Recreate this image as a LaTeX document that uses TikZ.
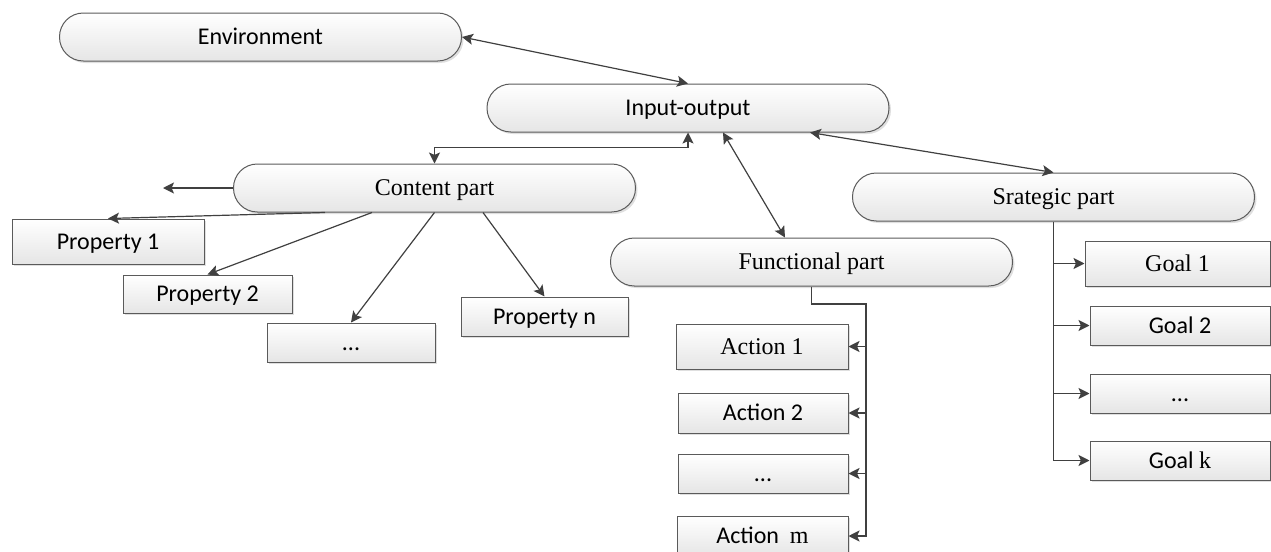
\documentclass[tikz,border=0pt]{standalone}
\usepackage{fontspec}
\setmainfont{Liberation Serif}
\newfontfamily\calfont{Carlito}
\usetikzlibrary{arrows.meta,shadows}
\definecolor{linegray}{HTML}{404040}
\definecolor{edgegray}{HTML}{5A5A5A}

\begin{document}
\begin{tikzpicture}[x=0.5pt,y=-0.5pt]
    \useasboundingbox (0,0) rectangle (1271,552);

    \tikzstyle{shade}=[draw=edgegray,line width=0.5pt,top color=white,bottom color=gray!20,drop shadow={shadow xshift=1pt,shadow yshift=-1pt,opacity=0.25},inner sep=0pt,text height=7.7pt,text depth=0pt,font=\fontsize{12}{14}\selectfont]
    \tikzstyle{oval}=[shade,rounded corners=11.9pt,minimum width=201pt,minimum height=24pt]
    \tikzstyle{box}=[shade]

    \node[oval]  (env) at (260.5,37) {\calfont Environment};
    \node[oval]  (io) at (688,108) {\calfont Input-output};
    \node[oval]  (content) at (434.5,188) {Content part};
    \node[oval]  (func) at (811.5,262) {Functional part};
    \node[oval]  (strat) at (1053.5,197) {Srategic part};

    \node[box,minimum width=96pt,minimum height=22.5pt]  (p1) at (108,241.5) {\calfont Property 1};
    \node[box,minimum width=84.5pt,minimum height=19pt]  (p2) at (207.5,294) {\calfont Property 2};
    \node[box,minimum width=84pt,minimum height=19.5pt]  (pdots) at (351,342.5) {\calfont ...};
    \node[box,minimum width=83.5pt,minimum height=19.5pt]  (pn) at (544.5,316.5) {\calfont Property n};

    \node[box,minimum width=86pt,minimum height=22.5pt]  (a1) at (762,346.5) {Action 1};
    \node[box,minimum width=85pt,minimum height=20pt]  (a2) at (763,413) {\calfont Action 2};
    \node[box,minimum width=85pt,minimum height=19.5pt]  (adots) at (763,473.5) {\calfont ...};
    \node[box,minimum width=85.5pt,minimum height=20pt]  (am) at (762.5,536) {\calfont Action\ \ \rmfamily m};

    \node[box,minimum width=92.5pt,minimum height=22.5pt]  (g1) at (1177.5,263.5) {Goal 1};
    \node[box,minimum width=90pt,minimum height=19.5pt]  (g2) at (1180,325.5) {\calfont Goal 2};
    \node[box,minimum width=90pt,minimum height=19.5pt]  (gdots) at (1180,393.5) {\calfont ...};
    \node[box,minimum width=90pt,minimum height=19.5pt]  (gk) at (1180,460.5) {\calfont Goal \rmfamily k};

    \tikzstyle{fwd}=[draw=linegray,line width=0.6pt,-{Stealth[length=5.5pt,width=5.5pt,inset=1.2pt]}]
    \tikzstyle{both}=[fwd,{Stealth[length=5.5pt,width=5.5pt,inset=1.2pt]}-{Stealth[length=5.5pt,width=5.5pt,inset=1.2pt]}]
    \tikzstyle{trunk}=[fwd,line width=0.9pt]

          \draw [both] (env.east) -- (io.north);
          \draw [both] (io.south) |- ([yshift=8pt]content.north) -- (content.north);
          \draw [both] ([xshift=17.5pt]io.south) -- ([xshift=-13.25pt]func.north);
          \draw [both] ([xshift=61pt]io.south) -- (strat.north);

          \coordinate (cfree) at (163,188);
          \draw [fwd] (content.west) -- (cfree);
          \draw [fwd] ([xshift=-54.75pt]content.south) -- (p1.north);
          \draw [fwd] ([xshift=-31.25pt]content.south) -- (p2.north);
          \draw [fwd] (content.south) -- (pdots.north);
          \draw [fwd] ([xshift=24.25pt]content.south) -- (pn.north);

          \coordinate (fknee) at (866,304);
          \draw [trunk] (func.south) |- (fknee) |- (am.east);
          \foreach \n in {a1,a2,adots}
            \draw [trunk] (fknee |- \n.east) -- (\n.east);

          \draw [trunk] (strat.south) |- (gk.west);
          \foreach \n in {g1,g2,gdots}
            \draw [trunk] (strat.south |- \n.west) -- (\n.west);

\end{tikzpicture}
\end{document}
